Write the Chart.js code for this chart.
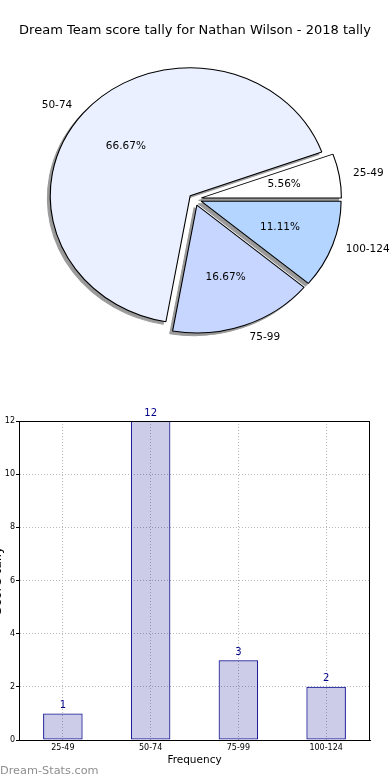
<!DOCTYPE html>
<html>
<head>
<meta charset="utf-8">
<script src="https://cdn.jsdelivr.net/npm/chart.js@4.4.0/dist/chart.umd.min.js"></script>
<style>
html,body{margin:0;padding:0;background:#fff;}
#wrap{position:relative;width:390px;height:780px;overflow:hidden;font-family:'DejaVu Sans',sans-serif;}
#title{position:absolute;left:0;top:21px;width:390px;text-align:center;font-size:13px;line-height:18px;color:#000;white-space:nowrap;}
#pieBox{position:absolute;left:0;top:0;width:390px;height:390px;}
#barBox{position:absolute;left:0;top:390px;width:390px;height:390px;}
#wm{position:absolute;left:0;top:763px;font-size:11.3px;line-height:16px;color:#8e8e8e;white-space:nowrap;}
</style>
</head>
<body>
<div id="wrap">
  <div id="pieBox"><canvas id="pie"></canvas></div>
  <div id="barBox"><canvas id="bar"></canvas></div>
  <div id="title">Dream Team score tally for Nathan Wilson - 2018 tally</div>
  <div id="wm">Dream-Stats.com</div>
</div>
<script>
// ---- data ----
const chartTitle = 'Dream Team score tally for Nathan Wilson - 2018 tally';
const categories = ['25-49', '50-74', '75-99', '100-124'];
const tallies = [1, 12, 3, 2];
const yTickValues = [0, 2, 4, 6, 8, 10, 12];
const xAxisTitle = 'Frequency';
const yAxisTitle = 'Score tally';

// ---- styles ----
const pieColors = ['#ffffff', '#eaf0ff', '#c6d6ff', '#b4d5ff'];
const explode = [0.05, 0.04, 0.05, 0.05];
const ASPECT = 140 / 128;
const FONT = "'DejaVu Sans', sans-serif";

const total = tallies.reduce((a, b) => a + b, 0);
const n = categories.length;

const pieDraw = {
  id: 'pieDraw',
  beforeDatasetsDraw(chart) {
    const ctx = chart.ctx;
    const arcs = chart.getDatasetMeta(0).data;
    const geo = arcs.map((arc, i) => {
      const p = arc.getProps(['x', 'y', 'startAngle', 'endAngle', 'outerRadius'], true);
      const origIdx = n - 1 - i;
      const mid = (p.startAngle + p.endAngle) / 2;
      const ry = p.outerRadius, rx = ry * ASPECT;
      const e = explode[origIdx];
      return {arc, p, mid, rx, ry, origIdx,
        cx: p.x + e * rx * Math.cos(mid), cy: p.y + e * ry * Math.sin(mid)};
    });
    const apply = g => { ctx.translate(g.cx, g.cy); ctx.scale(ASPECT, 1); ctx.translate(-g.p.x, -g.p.y); };
    const SHIFT = 2000;
    geo.forEach(g => {
      ctx.save();
      ctx.translate(SHIFT, 0);
      ctx.shadowColor = '#9a9a9a';
      ctx.shadowBlur = 0;
      ctx.shadowOffsetX = -SHIFT - 2.8;
      ctx.shadowOffsetY = 2.6;
      apply(g);
      g.arc.draw(ctx);
      ctx.restore();
    });
    geo.forEach(g => { ctx.save(); apply(g); g.arc.draw(ctx); ctx.restore(); });
    ctx.save();
    ctx.fillStyle = '#000';
    ctx.font = '10.5px ' + FONT;
    ctx.textBaseline = 'middle';
    geo.forEach(g => {
      const c = Math.cos(g.mid), s = Math.sin(g.mid);
      ctx.textAlign = c > 0 ? 'left' : 'right';
      ctx.fillText(categories[g.origIdx], g.cx + 1.1 * g.rx * c, g.cy + 1.1 * g.ry * s);
      ctx.textAlign = 'center';
      const pct = (tallies[g.origIdx] / total * 100).toFixed(2) + '%';
      ctx.fillText(pct, g.cx + 0.6 * g.rx * c, g.cy + 0.6 * g.ry * s);
    });
    ctx.restore();
    return false;
  }
};

new Chart(document.getElementById('pie'), {
  type: 'pie',
  data: {
    labels: categories.slice().reverse(),
    datasets: [{
      data: tallies.slice().reverse(),
      backgroundColor: pieColors.slice().reverse(),
      borderColor: '#000',
      borderWidth: 1
    }]
  },
  options: {
    responsive: true, maintainAspectRatio: false, animation: false,
    rotation: 90,
    layout: {padding: {left: 66, right: 67, top: 70.5, bottom: 62.5}},
    plugins: {legend: {display: false}, tooltip: {enabled: false}, title: {display: false}}
  },
  plugins: [pieDraw]
});

const frame = {
  id: 'frame',
  afterDatasetsDraw(chart) {
    const {ctx, chartArea: a} = chart;
    ctx.save();
    ctx.strokeStyle = '#000';
    ctx.lineWidth = 1;
    ctx.strokeRect(Math.round(a.left) + 0.5, Math.round(a.top) + 0.5,
      Math.round(a.right - a.left) - 1, Math.round(a.bottom - a.top) - 0);
    ctx.restore();
  }
};
const barLabels = {
  id: 'barLabels',
  afterDraw(chart) {
    const ctx = chart.ctx;
    const meta = chart.getDatasetMeta(0);
    ctx.save();
    ctx.fillStyle = '#00008b';
    ctx.font = '10px ' + FONT;
    ctx.textAlign = 'center';
    ctx.textBaseline = 'middle';
    meta.data.forEach((bar, i) => {
      ctx.fillText(String(tallies[i]), bar.x, bar.y - 8);
    });
    // y-axis title, clipped at the left edge like the reference
    const a = chart.chartArea;
    ctx.fillStyle = '#000';
    ctx.font = '13px ' + FONT;
    ctx.translate(1, (a.top + a.bottom) / 2);
    ctx.rotate(-Math.PI / 2);
    ctx.textBaseline = 'alphabetic';
    ctx.fillText(yAxisTitle, 0, 0);
    ctx.restore();
  }
};

new Chart(document.getElementById('bar'), {
  type: 'bar',
  data: {
    labels: categories,
    datasets: [{
      data: tallies,
      backgroundColor: 'rgba(0,0,139,0.2)',
      borderColor: '#00008b',
      borderWidth: 1,
      borderSkipped: false,
      barPercentage: 0.45,
      categoryPercentage: 1
    }]
  },
  options: {
    responsive: true, maintainAspectRatio: false, animation: false,
    layout: {padding: {left: 0, right: 20, top: 31, bottom: 0}},
    plugins: {legend: {display: false}, tooltip: {enabled: false}},
    scales: {
      x: {
        grid: {offset: false, color: '#b8b8b8', drawTicks: false},
        border: {display: true, color: '#000', dash: [1, 2]},
        ticks: {padding: 3, color: '#000', font: {family: FONT, size: 8}},
        title: {display: true, text: xAxisTitle, color: '#000', font: {family: FONT, size: 10.5}, padding: {top: 0, bottom: 13.7}},
        afterFit(s) { s.height = 40; }
      },
      y: {
        min: 0, max: 12,
        afterBuildTicks(s) { s.ticks = yTickValues.map(v => ({value: v})); },
        grid: {color: '#b8b8b8', tickColor: '#000', tickLength: 3, tickBorderDash: []},
        border: {display: true, color: '#000', dash: [1, 2]},
        ticks: {padding: 1, color: '#000', font: {family: FONT, size: 8}},
        afterFit(s) { s.width = 19; }
      }
    }
  },
  plugins: [frame, barLabels]
});
</script>
</body>
</html>
